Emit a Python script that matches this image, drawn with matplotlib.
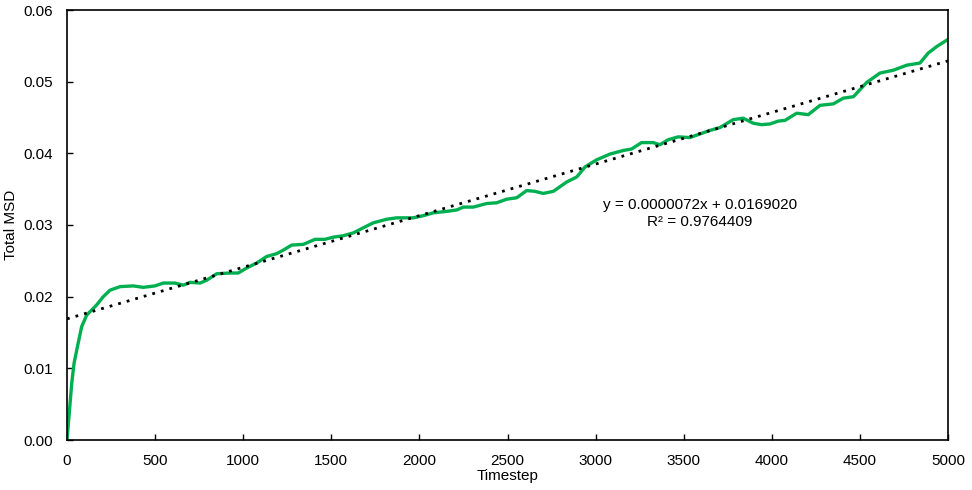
import matplotlib
matplotlib.use("Agg")
import matplotlib.pyplot as plt
import numpy as np

plt.rcParams['font.family'] = ['Liberation Sans', 'DejaVu Sans']

timestep = [0, 27, 40, 59, 83, 112, 168, 206, 244, 301, 376, 433, 499, 547, 613, 660,
            698, 755, 793, 850, 925, 972, 1020, 1077, 1133, 1190, 1228, 1275, 1341,
            1408, 1464, 1511, 1568, 1625, 1681, 1738, 1814, 1871, 1965, 2022, 2079,
            2155, 2212, 2249, 2306, 2382, 2439, 2495, 2552, 2609, 2656, 2703, 2760,
            2836, 2893, 2940, 3006, 3082, 3157, 3204, 3261, 3327, 3365, 3412, 3469,
            3535, 3592, 3649, 3706, 3781, 3838, 3895, 3942, 3990, 4037, 4075, 4141,
            4207, 4274, 4349, 4406, 4463, 4539, 4614, 4690, 4766, 4841, 4888, 4936, 5000]
msd = [0.0, 0.00795, 0.0107, 0.0130, 0.0158, 0.01744, 0.01884, 0.0200, 0.0209, 0.0214,
       0.0215, 0.0213, 0.0215, 0.0219, 0.0219, 0.0216, 0.0220, 0.0219, 0.0223, 0.0232,
       0.0233, 0.0233, 0.0240, 0.0247, 0.0256, 0.0260, 0.0265, 0.0272, 0.0273, 0.0280,
       0.0280, 0.0283, 0.0285, 0.0289, 0.0296, 0.0303, 0.0308, 0.0310, 0.0310, 0.0313,
       0.0317, 0.0319, 0.0321, 0.0325, 0.0325, 0.0330, 0.0331, 0.0336, 0.0338, 0.0348,
       0.0347, 0.0344, 0.0347, 0.0360, 0.0367, 0.0381, 0.0391, 0.0399, 0.0404, 0.0406,
       0.0415, 0.0415, 0.0412, 0.0419, 0.0423, 0.0422, 0.0427, 0.0432, 0.0436, 0.0447,
       0.0449, 0.0442, 0.0440, 0.0441, 0.0445, 0.0446, 0.0456, 0.0454, 0.0467, 0.0469,
       0.0477, 0.0479, 0.0499, 0.0512, 0.0516, 0.0523, 0.0526, 0.0540, 0.0549, 0.0559]

slope = 0.0000072
intercept = 0.0169020
r2 = 0.9764409

fig = plt.figure(figsize=(9.72, 4.90), dpi=100)
ax = fig.add_axes([67/972, 1 - 440/490, (948-67)/972, (440-10)/490])

ax.plot(timestep, msd, color='#00B050', lw=2.4, solid_joinstyle='round',
        solid_capstyle='round')
tx = np.array([0, 5000])
ax.plot(tx, slope * tx + intercept, color='black', lw=2.0, linestyle=(0, (1, 2.2)))

ax.text(3593, 0.0328, f"y = {slope:.7f}x + {intercept:.7f}", ha='center', va='center', fontsize=11)
ax.text(3593, 0.0304, f"R\u00b2 = {r2:.7f}", ha='center', va='center', fontsize=11)

ax.set_xlim(0, 5000)
ax.set_ylim(0, 0.06)
ax.set_xticks(np.arange(0, 5001, 500))
ax.set_yticks(np.arange(0, 0.0601, 0.01))
ax.set_yticklabels([f"{v:.2f}" for v in np.arange(0, 0.0601, 0.01)])
ax.tick_params(direction='in', length=4, width=1, labelsize=11, colors='black')
ax.tick_params(axis='x', pad=10)
ax.tick_params(axis='y', pad=10)
for s in ax.spines.values():
    s.set_linewidth(1.2)
    s.set_color('black')
ax.set_xlabel("Timestep", fontsize=11, labelpad=1)
ax.set_ylabel("Total MSD", fontsize=11, labelpad=4)

fig.savefig("out.png", dpi=100)
